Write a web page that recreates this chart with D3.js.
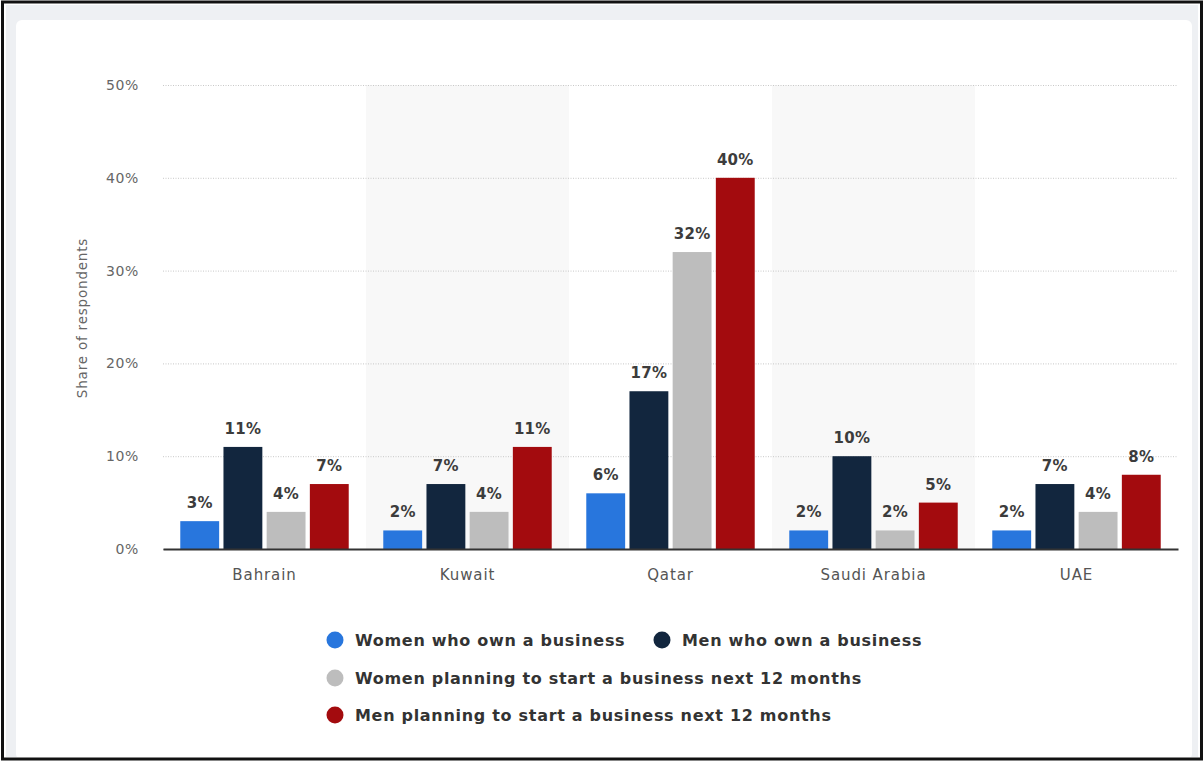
<!DOCTYPE html>
<html><head><meta charset="utf-8">
<script src="https://cdn.jsdelivr.net/npm/d3@7"></script>
<style>html,body{margin:0;padding:0;background:#fff;}svg{display:block;}</style>
</head><body>
<svg id="chart" width="1204" height="762"></svg>
<script>
const categories = ["Bahrain","Kuwait","Qatar","Saudi Arabia","UAE"];
const seriesNames = ["Women who own a business","Men who own a business","Women planning to start a business next 12 months","Men planning to start a business next 12 months"];
const womenOwn = [3,2,6,2,2];
const menOwn = [11,7,17,10,7];
const womenPlan = [4,4,32,2,4];
const menPlan = [7,11,40,5,8];
const colors = ["#2876dd","#12263e","#bdbdbd","#a30b0e"];
const yTicks = [0,10,20,30,40,50];
const series = [womenOwn, menOwn, womenPlan, menPlan];
const FONT = "'DejaVu Sans', Verdana, sans-serif";

const svg = d3.select("#chart");
// frame
svg.append("rect").attr("x",0).attr("y",0).attr("width",1204).attr("height",762).attr("fill","#fff");
svg.append("rect").attr("x",6).attr("y",5).attr("width",1192).attr("height",752).attr("fill","#eef0f3");
svg.append("rect").attr("x",16).attr("y",20).attr("width",1176).attr("height",740).attr("rx",6).attr("fill","#fff");
svg.append("rect").attr("x",2.5).attr("y",2).attr("width",1199).attr("height",757).attr("fill","none").attr("stroke","#111").attr("stroke-width",3);

const m = {left:163, right:1178, top:85, bottom:549};
const x = d3.scaleBand().domain(categories).range([m.left, m.right]);
const y = d3.scaleLinear().domain([0,50]).range([m.bottom, m.top]);
const inner = d3.scaleBand().domain(d3.range(series.length)).range([0, x.bandwidth()]).paddingInner(0.1).paddingOuter(0.4);

// alternating bands
svg.append("g").selectAll("rect").data(categories.filter((d,i)=>i%2===1)).join("rect")
  .attr("x", d=>x(d)).attr("y", m.top).attr("width", x.bandwidth()).attr("height", m.bottom-m.top).attr("fill","#f8f8f8");

// grid
const yAxis = d3.axisLeft(y).tickValues(yTicks).tickFormat(d=>d+"%").tickSize(-(m.right-m.left)).tickPadding(24);
const gy = svg.append("g").attr("transform",`translate(${m.left},0)`).call(yAxis);
gy.select(".domain").remove();
gy.selectAll(".tick line").attr("stroke","#c8c8c8").attr("stroke-dasharray","1,1.5");
gy.selectAll(".tick text").attr("fill","#666").style("font-family",FONT).style("font-size","14px").style("letter-spacing","0.6px");

// bars
const groups = svg.append("g").selectAll("g").data(categories).join("g").attr("transform", d=>`translate(${x(d)},0)`);
groups.each(function(cat, ci){
  const g = d3.select(this);
  series.forEach((s, si) => {
    const v = s[ci];
    g.append("rect").attr("x", inner(si)).attr("y", y(v)).attr("width", inner.bandwidth()).attr("height", y(0)-y(v)).attr("fill", colors[si]);
    g.append("text").attr("x", inner(si)+inner.bandwidth()/2).attr("y", y(v)-13).attr("text-anchor","middle")
      .attr("fill","#3c3c3c").style("font-family",FONT).style("font-size","15px").style("font-weight","bold").style("letter-spacing","0.3px").text(v+"%");
  });
});

// x axis
const xAxis = d3.axisBottom(x).tickSize(0).tickPadding(20);
const gx = svg.append("g").attr("transform",`translate(0,${m.bottom})`).call(xAxis);
gx.select(".domain").attr("stroke","#333").attr("stroke-width",2);
gx.selectAll(".tick text").attr("fill","#555").style("font-family",FONT).style("font-size","15px").style("letter-spacing","0.9px");

// y title
svg.append("text").attr("transform","translate(87,318) rotate(-90)").attr("text-anchor","middle")
  .attr("fill","#666").style("font-family",FONT).style("font-size","13.5px").style("letter-spacing","0.8px").text("Share of respondents");

// legend
const legendPos = [[335,640],[662,640],[335,678],[335,715]];
const lg = svg.append("g").selectAll("g").data(seriesNames).join("g").attr("transform",(d,i)=>`translate(${legendPos[i][0]},${legendPos[i][1]})`);
lg.append("circle").attr("r",8.5).attr("fill",(d,i)=>colors[i]);
lg.append("text").attr("x",20).attr("y",6).attr("fill","#333").style("font-family",FONT).style("font-size","16px").style("font-weight","bold").style("letter-spacing","0.7px").text(d=>d);
</script>
</body></html>
